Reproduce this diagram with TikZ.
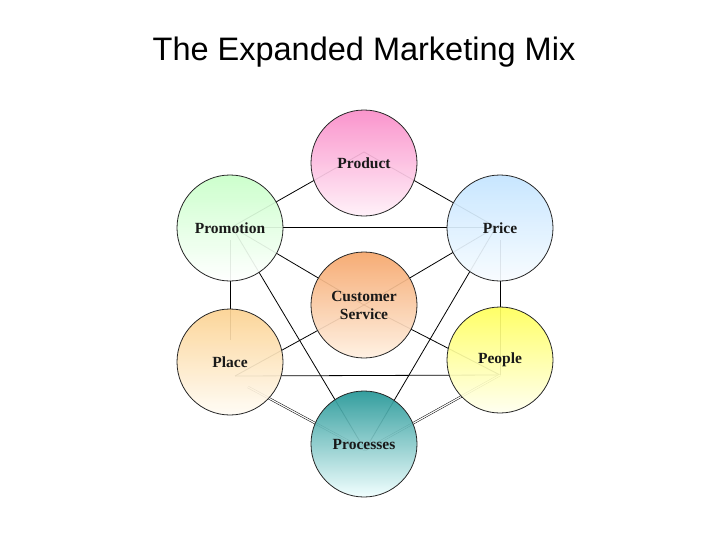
\documentclass[tikz,border=0pt]{standalone}
\usepackage{fontspec}
\setmainfont{Liberation Serif}
\newfontfamily\titlefont{Liberation Sans}
\definecolor{prodtop}{RGB}{250,140,200}
\definecolor{prodbot}{RGB}{255,240,248}
\definecolor{promtop}{RGB}{200,255,200}
\definecolor{prictop}{RGB}{195,228,255}
\definecolor{pricbot}{RGB}{248,252,255}
\definecolor{cstop}{RGB}{245,165,105}
\definecolor{csbot}{RGB}{255,240,225}
\definecolor{platop}{RGB}{252,210,145}
\definecolor{plabot}{RGB}{255,252,245}
\definecolor{peotop}{RGB}{255,255,90}
\definecolor{peobot}{RGB}{255,255,240}
\definecolor{proctop}{RGB}{35,150,150}
\definecolor{procbot}{RGB}{240,255,255}
\begin{document}
\begin{tikzpicture}[x=1pt,y=-1pt,
  ball/.style={circle, draw=black!85, line width=0.8pt, minimum size=106pt, inner sep=0pt,
    font=\fontsize{15.5}{17}\selectfont\bfseries, text=black!90, align=center, fill opacity=0.92, text opacity=1},
  link/.style={draw=black, line width=0.8pt},
  dlink/.style={draw=black, line width=0.5pt, double=white, double distance=1.2pt}]
\useasboundingbox (0,0) rectangle (728,546);
\node[font=\titlefont\fontsize{32.5}{38}\selectfont] (title) at (364,52) {The Expanded Marketing Mix};
% connection points
\coordinate (cProd) at (364,152);
\coordinate (cProm) at (232,227);
\coordinate (cPric) at (496,227);
\coordinate (cCS)   at (364,305);
\coordinate (cPlaT) at (230,340);
\coordinate (cPromB) at (230,240);
\coordinate (cPla)  at (235,376);
\coordinate (cPlaP) at (248,387);
\coordinate (cPricB) at (500,240);
\coordinate (cPeoT) at (500,375);
\coordinate (cPeo)  at (500,375);
\coordinate (cProc) at (365,450);
% connectors
\draw[link] (cProd) -- (cProm);
\draw[link] (cProd) -- (cPric);
\draw[link] (cProm) -- (cPric);
\draw[link] (cProm) -- (cCS);
\draw[link] (cPric) -- (cCS);
\draw[link] (cPromB) -- (cPlaT);
\draw[link] (cPricB) -- (cPeoT);
\draw[link] (cProm) -- (cProc);
\draw[link] (cPric) -- (cProc);
\draw[link] (cCS) -- (cPla);
\draw[link] (cCS) -- (cPeo);
\draw[link] (cPla) -- (cPeo);
\draw[dlink] (cPlaP) -- (cProc);
\draw[dlink] (cPeo) -- (cProc);
% circles
\node[ball, top color=prodtop, bottom color=prodbot] (prod) at (364,163) {Product};
\node[ball, top color=promtop, bottom color=white] (prom) at (230,228) {Promotion};
\node[ball, top color=prictop, bottom color=pricbot] (pric) at (500,228) {Price};
\node[ball, top color=cstop, bottom color=csbot] (cs) at (364,305) {Customer\\[1pt]Service};
\node[ball, top color=platop, bottom color=plabot] (pla) at (230,362) {Place};
\node[ball, top color=peotop, bottom color=peobot] (peo) at (500,360) {People};
\node[ball, top color=proctop, bottom color=procbot] (proc) at (364,444) {Processes};
\end{tikzpicture}
\end{document}
